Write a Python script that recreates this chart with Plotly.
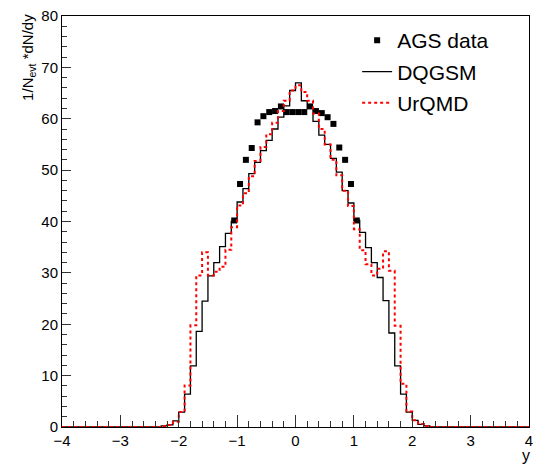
import plotly.graph_objects as go

# ---- data ----
bin_lo = -4.0
bin_width = 0.1
n_bins = 80

dqgsm = [0, 0, 0, 0, 0, 0, 0, 0, 0, 0,
         0, 0, 0, 0, 0, 0, 0, 0.2, 0.4, 1.2,
         2.9, 6.4, 11.9, 18.6, 24.5, 29.4, 32.0, 35.1, 37.7, 40.0,
         43.8, 46.4, 49.3, 51.5, 53.8, 55.8, 58.0, 60.3, 62.5, 65.5,
         67.0, 63.5, 62.0, 59.5, 56.8, 55.0, 52.3, 49.6, 46.0, 43.6,
         40.2, 37.9, 34.9, 32.0, 29.1, 24.6, 18.3, 11.9, 6.4, 2.9,
         1.3, 0.5, 0.2, 0, 0, 0, 0, 0, 0, 0,
         0, 0, 0, 0, 0, 0, 0, 0, 0, 0]

urqmd = [0, 0, 0, 0, 0, 0, 0, 0, 0, 0,
         0, 0, 0, 0, 0, 0, 0, 0.2, 0.4, 1.0,
         2.9, 8.1, 19.8, 29.5, 34.0, 29.5, 30.2, 31.2, 34.5, 38.9,
         43.1, 45.5, 48.8, 51.8, 54.5, 57.0, 59.2, 61.5, 63.5, 65.5,
         66.5, 65.2, 63.5, 61.0, 58.0, 55.0, 52.0, 49.0, 46.0, 43.0,
         38.5, 34.4, 31.7, 29.5, 30.8, 34.2, 30.4, 19.7, 8.4, 3.0,
         1.3, 0.6, 0.2, 0, 0, 0, 0, 0, 0, 0,
         0, 0, 0, 0, 0, 0, 0, 0, 0, 0]

ags_y = [-1.05, -0.95, -0.85, -0.75, -0.65, -0.55, -0.45, -0.35, -0.25, -0.15, -0.05,
         0.05, 0.15, 0.25, 0.35, 0.45, 0.55, 0.65, 0.75, 0.85, 0.95, 1.05]
ags_dndy = [40.2, 47.3, 52.0, 54.3, 59.3, 60.5, 61.3, 61.5, 62.4, 61.3, 61.3,
            61.3, 61.3, 62.4, 61.5, 61.1, 60.3, 59.0, 54.4, 52.0, 47.3, 40.2]

x_ticks = [-4, -3, -2, -1, 0, 1, 2, 3, 4]
x_tick_text = ["\u22124", "\u22123", "\u22122", "\u22121", "0", "1", "2", "3", "4"]
y_ticks = [0, 10, 20, 30, 40, 50, 60, 70, 80]

# step outlines built from bin edges
edges = [bin_lo + bin_width * i for i in range(n_bins + 1)]


def step(vals):
    return edges, list(vals) + [vals[-1]]


FONT = "Liberation Sans, Arial, Helvetica, sans-serif"

fig = go.Figure()

fig.add_trace(go.Scatter(
    x=ags_y, y=ags_dndy, mode="markers", name="AGS data",
    marker=dict(symbol="square", size=6, color="black"),
    legendgroup="a",
))
xs, ys = step(dqgsm)
fig.add_trace(go.Scatter(
    x=xs, y=ys, mode="lines", name="DQGSM", line_shape="hv",
    line=dict(color="black", width=1.3),
    legendgroup="b",
))
xs, ys = step(urqmd)
fig.add_trace(go.Scatter(
    x=xs, y=ys, mode="lines", name="UrQMD", line_shape="hv",
    line=dict(color="#ff0000", width=2, dash="3px,3px"),
    legendgroup="c",
))

fig.update_layout(
    width=535, height=464,
    margin=dict(l=62, r=2, t=16, b=37),
    paper_bgcolor="white", plot_bgcolor="white",
    font=dict(family=FONT, size=15, color="black"),
    showlegend=True,
    legend=dict(
        x=0.632, y=0.99, xanchor="left", yanchor="top",
        font=dict(size=21, family=FONT),
        bgcolor="rgba(255,255,255,0)",
        traceorder="grouped", tracegroupgap=1,
    ),
    xaxis=dict(
        range=[-4, 4], tickvals=x_ticks, ticktext=x_tick_text,
        ticklabeloverflow="allow",
        ticks="inside", ticklen=12, tickwidth=1, tickcolor="#333",
        minor=dict(dtick=0.2, ticks="inside", ticklen=6, tickwidth=1, tickcolor="#333"),
        showline=True, linecolor="black", linewidth=1, mirror=True,
        showgrid=False, zeroline=False,
        tickfont=dict(size=15),
    ),
    yaxis=dict(
        range=[0, 80], tickvals=y_ticks,
        ticks="inside", ticklen=9, tickwidth=1, tickcolor="#333",
        minor=dict(dtick=2, ticks="inside", ticklen=5, tickwidth=1, tickcolor="#333"),
        showline=True, linecolor="black", linewidth=1, mirror=True,
        showgrid=False, zeroline=False,
        tickfont=dict(size=15),
    ),
    annotations=[
        dict(text="1/N<sub>evt</sub> *dN/dy", xref="paper", yref="paper",
             x=-0.072, y=1.0, xanchor="center", yanchor="top", textangle=-90,
             showarrow=False, font=dict(size=15, family=FONT), yshift=4),
        dict(text="y", xref="paper", yref="paper", x=1.0, y=0, xanchor="right",
             yanchor="top", showarrow=False, font=dict(size=16, family=FONT),
             yshift=-18, xshift=3),
    ],
)

fig.write_html("out.html")
